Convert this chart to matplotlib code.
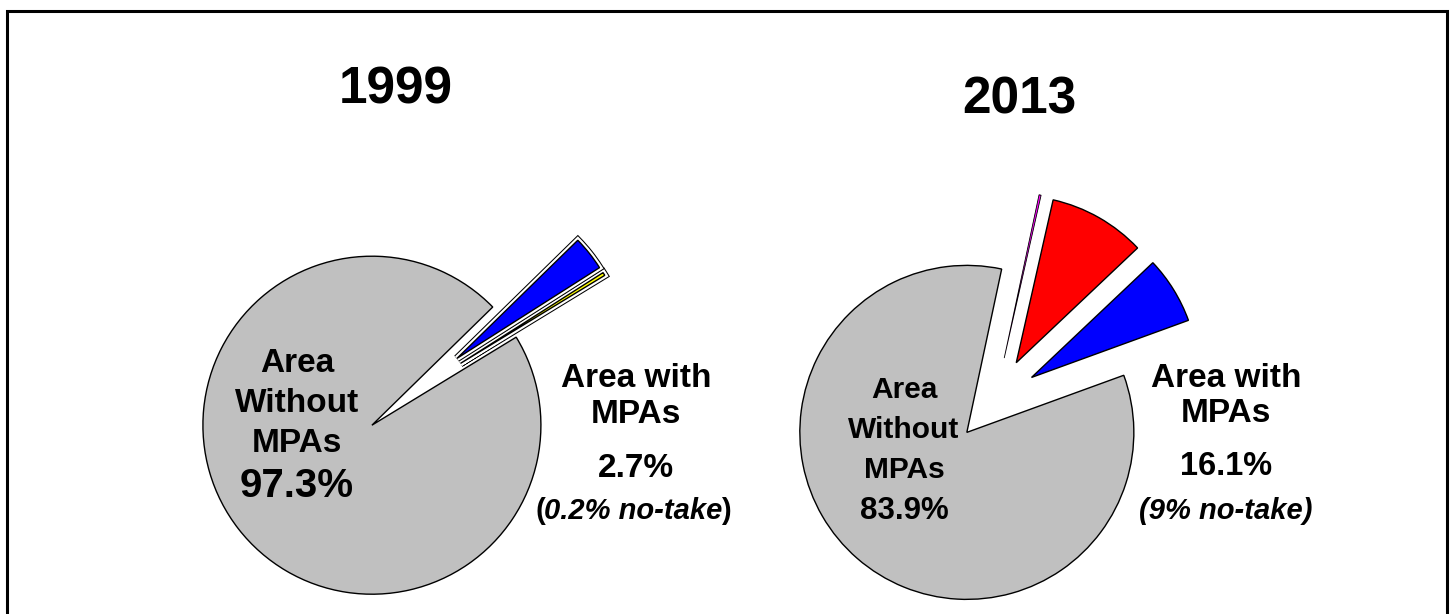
import matplotlib
matplotlib.use('Agg')
import matplotlib.pyplot as plt
import matplotlib.patheffects as pe

W, H = 1453, 614

# 1999 pie, counter-clockwise from the start angle
labels_1999 = ['No-take MPAs', 'Other MPAs', 'Area Without MPAs']
values_1999 = [0.3, 3.3, 96.4]
colors_1999 = ['#FFFF00', '#0000FF', '#C0C0C0']

# 2013 pie, counter-clockwise from the start angle
labels_2013 = ['Other MPAs', 'No-take MPAs', 'Other', 'Area Without MPAs']
values_2013 = [6.5, 9.4, 0.2, 83.9]
colors_2013 = ['#0000FF', '#FF0000', '#FF00FF', '#C0C0C0']

plt.rcParams['font.family'] = ['Liberation Sans', 'DejaVu Sans']

fig = plt.figure(figsize=(W / 100, H / 100), dpi=100)
fig.patch.set_facecolor('white')


def pie_axes(cx, cy, r, half=270):
    # square axes centred on pixel (cx, cy), one data unit = r pixels
    ax = fig.add_axes([(cx - half) / W, 1 - (cy + half) / H, 2 * half / W, 2 * half / H])
    ax.axis('off')
    return ax


def ftext(x, y, s, size, **kw):
    # x, y in pixels from the top-left corner, y is the baseline
    return fig.text(x / W, 1 - y / H, s, fontsize=size, fontweight='bold',
                    ha='center', va='baseline', **kw)


# 1999
ax1 = pie_axes(414.6, 392, 169)
w1, _ = ax1.pie(values_1999, colors=colors_1999, startangle=31.4, radius=1,
                explode=[0.32] * len(values_1999),
                wedgeprops=dict(edgecolor='black', linewidth=1.0))
ax1.set_xlim(-270 / 169, 270 / 169)
ax1.set_ylim(-270 / 169, 270 / 169)
for w in w1[:2]:
    w.set_path_effects([pe.Stroke(linewidth=5.5, foreground='black'),
                        pe.Stroke(linewidth=4, foreground='white'),
                        pe.Normal()])

# 2013
ax2 = pie_axes(995, 400, 167)
w2, _ = ax2.pie(values_2013, colors=colors_2013, startangle=20, radius=1,
                explode=[0.257] * len(values_2013),
                wedgeprops=dict(edgecolor='black', linewidth=1.0))
ax2.set_xlim(-270 / 167, 270 / 167)
ax2.set_ylim(-270 / 167, 270 / 167)
w2[2].set_linewidth(0.6)

# titles
ftext(396, 103, '1999', 37)
ftext(1019, 113, '2013', 37)

# 1999 labels
ftext(297, 372, 'Area', 24)
ftext(297, 412, 'Without', 24)
ftext(297, 452, 'MPAs', 24)
ftext(297, 497, '97.3%', 29)

ftext(636, 387, 'Area with', 24)
ftext(636, 423, 'MPAs', 24)
ftext(636, 477, '2.7%', 24)

# 2013 labels
ftext(904, 398, 'Area', 21.5)
ftext(904, 438, 'Without', 21.5)
ftext(904, 478, 'MPAs', 21.5)
ftext(904, 519, '83.9%', 22.5)

ftext(1226, 387, 'Area with', 24)
ftext(1226, 422, 'MPAs', 24)
ftext(1226, 475, '16.1%', 23.5)
ftext(1226, 519, '(9% no-take)', 21, style='italic')

# "(0.2% no-take)" with upright brackets
mid = ftext(633, 519, '0.2% no-take', 21, style='italic')
renderer = fig.canvas.get_renderer()
bb = mid.get_window_extent(renderer)
fig.text(bb.x0 / W + 0.001, 1 - 519 / H, '(', fontsize=21, fontweight='bold',
         ha='right', va='baseline')
fig.text(bb.x1 / W - 0.001, 1 - 519 / H, ')', fontsize=21, fontweight='bold',
         ha='left', va='baseline')

# frame round the slide (open at the bottom edge)
frame = plt.Rectangle((6.5 / W, -0.05), (1447 - 6.5) / W, (H - 10.5) / H + 0.05,
                      transform=fig.transFigure, fill=False, edgecolor='black',
                      linewidth=2.2, clip_on=False)
fig.add_artist(frame)

fig.savefig('out.png', dpi=100, facecolor='white')
